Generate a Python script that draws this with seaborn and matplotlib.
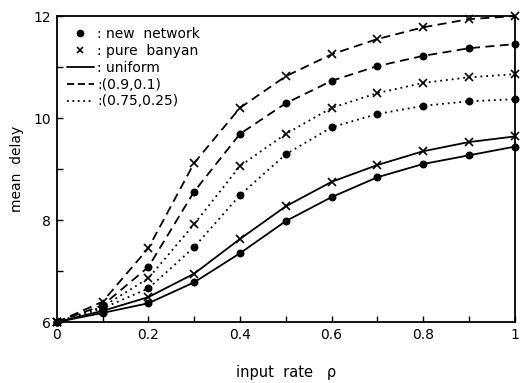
import matplotlib
matplotlib.use("Agg")
import matplotlib.pyplot as plt
from matplotlib.lines import Line2D
from matplotlib.ticker import MultipleLocator
import seaborn as sns
import pandas as pd

rho = [0.0, 0.1, 0.2, 0.3, 0.4, 0.5, 0.6, 0.7, 0.8, 0.9, 1.0]
uniform_new = [6.0, 6.18, 6.37, 6.78, 7.35, 7.98, 8.45, 8.84, 9.10, 9.27, 9.44]
uniform_banyan = [6.0, 6.22, 6.49, 6.95, 7.63, 8.27, 8.75, 9.08, 9.35, 9.53, 9.64]
skew90_new = [6.0, 6.33, 7.08, 8.56, 9.69, 10.29, 10.73, 11.02, 11.22, 11.37, 11.45]
skew90_banyan = [6.0, 6.40, 7.45, 9.12, 10.20, 10.82, 11.25, 11.55, 11.78, 11.94, 12.0]
skew75_new = [6.0, 6.27, 6.66, 7.47, 8.49, 9.29, 9.82, 10.08, 10.24, 10.33, 10.37]
skew75_banyan = [6.0, 6.30, 6.86, 7.92, 9.06, 9.69, 10.20, 10.49, 10.69, 10.80, 10.86]

legend_labels = [": new  network", ": pure  banyan", ": uniform", ":(0.9,0.1)", ":(0.75,0.25)"]

sns.set_theme(style="ticks")
plt.rcParams['font.family'] = ['DejaVu Sans']
plt.rcParams['text.color'] = 'black'
plt.rcParams['axes.labelcolor'] = 'black'
plt.rcParams['xtick.color'] = 'black'
plt.rcParams['ytick.color'] = 'black'

fig = plt.figure(figsize=(5.21, 3.83), dpi=100)
ax = fig.add_axes([0.109, 0.159, 0.879, 0.799])

dash90 = (0, (5, 3))
dot75 = (0, (1, 2.2))
series = [
    (uniform_new, '-', 'o'),
    (uniform_banyan, '-', 'x'),
    (skew90_new, dash90, 'o'),
    (skew90_banyan, dash90, 'x'),
    (skew75_new, dot75, 'o'),
    (skew75_banyan, dot75, 'x'),
]
for vals, ls, mk in series:
    df = pd.DataFrame({"rho": rho, "delay": vals})
    sns.lineplot(data=df, x="rho", y="delay", ax=ax, color="black",
                 linestyle=ls, linewidth=1.3, marker=mk,
                 markersize=4.5 if mk == 'o' else 5.5,
                 markeredgewidth=1.2, markeredgecolor="black",
                 markerfacecolor="black", clip_on=False, zorder=3)

ax.set_xlim(0, 1)
ax.set_ylim(6, 12)
ax.set_xticks([0, 0.2, 0.4, 0.6, 0.8, 1.0])
ax.set_xticklabels(["0", "0.2", "0.4", "0.6", "0.8", "1"])
ax.set_yticks([6, 8, 10, 12])
ax.set_yticklabels(["6", "8", "10", "12"])
ax.xaxis.set_minor_locator(MultipleLocator(0.1))
ax.yaxis.set_minor_locator(MultipleLocator(1))
ax.tick_params(axis='both', which='both', direction='in', length=4, width=1.0,
               labelsize=10, colors='black', pad=4)
for s in ax.spines.values():
    s.set_linewidth(1.3)
    s.set_color('black')
    s.set_visible(True)

ax.set_xlabel("input  rate   ρ", fontsize=10.5, labelpad=17, color='black')
ax.set_ylabel("mean  delay", fontsize=10, labelpad=7, color='black')

handles = [
    Line2D([], [], color='black', linestyle='none', marker='o', markersize=4.5),
    Line2D([], [], color='black', linestyle='none', marker='x', markersize=5, markeredgewidth=1.2),
    Line2D([], [], color='black', linestyle='-', linewidth=1.3),
    Line2D([], [], color='black', linestyle=(0, (4, 2)), linewidth=1.3),
    Line2D([], [], color='black', linestyle=(0, (1, 2)), linewidth=1.3),
]
leg = ax.legend(handles, legend_labels, loc='upper left', frameon=False,
                fontsize=10, handlelength=2.0, handletextpad=0.2,
                labelspacing=0.2, borderaxespad=0.3, bbox_to_anchor=(0.0, 0.995))
for t in leg.get_texts():
    t.set_color('black')

fig.savefig("out.png", dpi=100)
